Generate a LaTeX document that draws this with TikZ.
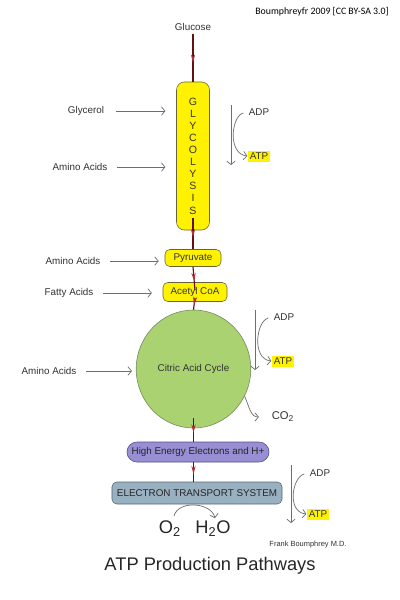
\documentclass[tikz,border=0pt]{standalone}
\usepackage{fontspec}
\setmainfont{Liberation Sans}
\newfontfamily\credfont{Carlito}
\usetikzlibrary{arrows.meta,shapes.geometric,decorations.markings}

\definecolor{glyyellow}{RGB}{255,242,0}
\definecolor{boxline}{RGB}{105,100,55}
\definecolor{cyclegreen}{RGB}{170,210,112}
\definecolor{cycleline}{RGB}{115,135,90}
\definecolor{heepurple}{RGB}{152,142,212}
\definecolor{heeline}{RGB}{85,75,135}
\definecolor{etsblue}{RGB}{152,176,192}
\definecolor{etsline}{RGB}{85,105,120}
\definecolor{flowred}{RGB}{100,15,20}
\definecolor{tipred}{RGB}{175,50,55}
\definecolor{labgray}{RGB}{50,50,50}
\definecolor{sidegray}{RGB}{110,110,110}

\tikzset{
  lab/.style={font=\fontsize{7}{8}\selectfont, text=labgray, inner sep=1pt},
  stagebox/.style={draw=boxline, fill=glyyellow, rounded corners=0.12cm,
    font=\fontsize{7}{8}\selectfont, text=black!80, inner sep=1pt},
  feed/.style={draw=sidegray, line width=0.5pt, -{Straight Barb[length=2.5pt,width=6pt]}},
  flow/.style={draw=flowred, line width=0.8pt, postaction={decorate},
    decoration={markings, mark=at position 0.62 with {\arrow[tipred]{Stealth[length=6pt,width=3pt]}}}},
  atpbox/.style={lab, fill=glyyellow, text=black!80, inner sep=1.5pt},
}

\begin{document}
\begin{tikzpicture}[x=0.025cm, y=-0.025cm]
\useasboundingbox[fill=white] (0,0) rectangle (400,600);

% credit and title
\node[font=\credfont\fontsize{7}{8}\selectfont] (credit) at (322,12) {Boumphreyfr 2009 [CC BY-SA 3.0]};
\node[font=\fontsize{13}{15}\selectfont, text=black!85] (title) at (210,566) {ATP Production Pathways};
\node[font=\fontsize{5.3}{6}\selectfont, text=labgray] (author) at (308,545) {Frank Boumphrey M.D.};

% main column
\node[lab] (glucose) at (193,27) {Glucose};
\node[stagebox, rounded corners=0.2cm, minimum width=0.825cm, minimum height=3.7cm,
  align=center, font=\fontsize{7.5}{8.6}\selectfont] (glyco) at (193,156) {G\\L\\Y\\C\\O\\L\\Y\\S\\I\\S};
\node[stagebox, minimum width=1.4cm, minimum height=0.425cm] (pyruvate) at (193,258) {Pyruvate};
\node[stagebox, minimum width=1.6cm, minimum height=0.475cm] (acetyl) at (195,292) {Acetyl CoA};
\node[ellipse, draw=cycleline, fill=cyclegreen, minimum width=2.725cm, minimum height=2.95cm,
  font=\fontsize{7}{8}\selectfont, text=black!80] (citric) at (193.5,369) {Citric Acid Cycle};
\node[draw=heeline, fill=heepurple, rounded corners=0.25cm, minimum width=3.475cm, minimum height=0.5cm,
  font=\fontsize{7}{8}\selectfont, text=black!85] (hee) at (198,452) {High Energy Electrons and H+};
\node[draw=etsline, fill=etsblue, rounded corners=0.12cm, minimum width=4.25cm, minimum height=0.55cm,
  font=\fontsize{7}{8}\selectfont, text=black!85] (ets) at (197,493) {ELECTRON TRANSPORT SYSTEM};

\draw[flow, shorten <=1pt] (glucose.south) -- (glyco.north);
\draw[flow] ([yshift=0.3cm]glyco.south) -- (pyruvate.north);
\draw[flow] (pyruvate.south) -- ([yshift=-0.2cm]acetyl.north);
\draw[flow] ([yshift=0.1cm]acetyl.south) -- (citric.north);
\draw[flow] ([yshift=0.25cm]citric.south) -- (hee.north -| citric.south);
\draw[flow] (hee.south -| citric.south) -- (ets.north -| citric.south);

% feeders
\node[lab] (glycerol) at (86,111) {Glycerol};
\node[lab] (amino1) at (80,167) {Amino Acids};
\node[lab] (amino2) at (73,261) {Amino Acids};
\node[lab] (fatty) at (69,293) {Fatty Acids};
\node[lab] (amino3) at (49,371) {Amino Acids};

\draw[feed, shorten <=0.25cm, shorten >=0.27cm] (glycerol.east) -- (glycerol.east -| glyco.west);
\draw[feed, shorten <=0.2cm, shorten >=0.27cm] (amino1.east) -- (amino1.east -| glyco.west);
\draw[feed, shorten <=0.2cm, shorten >=0.15cm] (amino2.east) -- (amino2.east -| pyruvate.west);
\draw[feed, shorten <=0.2cm, shorten >=0.27cm] (fatty.east) -- (fatty.east -| acetyl.west);
\draw[feed, shorten <=0.2cm, shorten >=0.1cm] (amino3.east) -- (amino3.east -| citric.west);

% ADP -> ATP
\node[lab] (adp1) at (259,112) {ADP};
\node[atpbox] (atp1) at (259,156) {ATP};
\coordinate (top1) at (231,105);
\coordinate (bot1) at (231,165);
\draw[feed] (top1) -- (bot1);
\draw[feed, shorten <=0.1cm] (adp1.west) .. controls +(-16,4) and +(-20,-2) .. (atp1.west);

\node[lab] (adp2) at (284,317) {ADP};
\node[atpbox] (atp2) at (283,361) {ATP};
\coordinate (top2) at (255,310);
\coordinate (bot2) at (255,370);
\draw[feed] (top2) -- (bot2);
\draw[feed, shorten <=0.1cm] (adp2.west) .. controls +(-16,4) and +(-20,-2) .. (atp2.west);

\node[lab] (adp3) at (320,473) {ADP};
\node[atpbox] (atp3) at (318,514) {ATP};
\coordinate (top3) at (291,465);
\coordinate (bot3) at (291,523);
\draw[feed] (top3) -- (bot3);
\draw[feed, shorten <=0.1cm] (adp3.west) .. controls +(-16,4) and +(-20,-2) .. (atp3.west);

% CO2
\node[font=\fontsize{8}{9}\selectfont, text=labgray] (co2) at (283,417) {CO\textsubscript{2}};
\draw[feed] (citric.-28) .. controls +(5,12) and +(-8,0) .. ([xshift=-0.2cm]co2.west);

% O2 -> H2O
\node[font=\fontsize{13}{15}\selectfont, text=black!85] (o2) at (170,529) {O\textsubscript{2}};
\node[font=\fontsize{13}{15}\selectfont, text=black!85] (h2o) at (213,529) {H\textsubscript{2}O};
\draw[feed] ([xshift=0.1cm]o2.north) .. controls +(4,-16) and +(-4,-16) .. ([xshift=0.05cm,yshift=-0.05cm]h2o.north);
\end{tikzpicture}
\end{document}
